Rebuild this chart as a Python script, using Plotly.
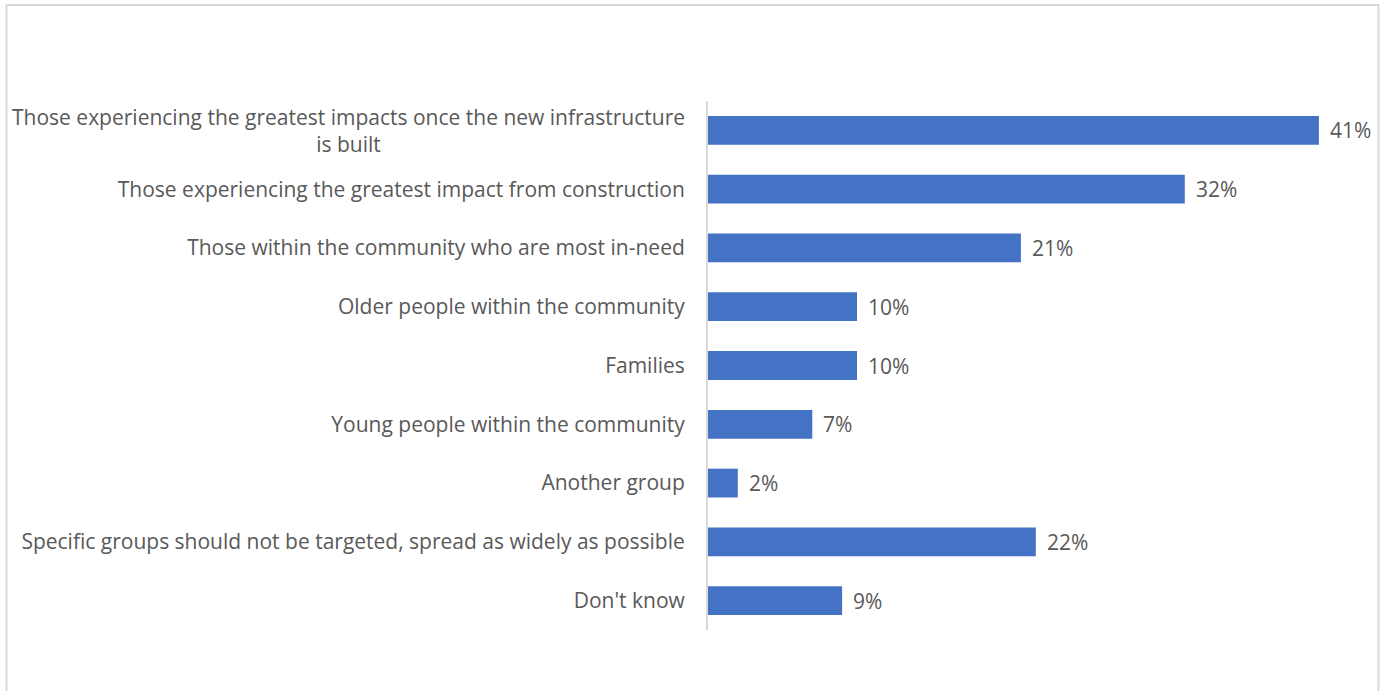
import plotly.graph_objects as go

# Survey response shares by group
categories = [
    "Those experiencing the greatest impacts once the new infrastructure<br>is built",
    "Those experiencing the greatest impact from construction",
    "Those within the community who are most in-need",
    "Older people within the community",
    "Families",
    "Young people within the community",
    "Another group",
    "Specific groups should not be targeted, spread as widely as possible",
    "Don't know",
]
values = [41, 32, 21, 10, 10, 7, 2, 22, 9]
value_labels = ["41%", "32%", "21%", "10%", "10%", "7%", "2%", "22%", "9%"]

W, H = 1383, 691
ML, MR, MT, MB = 708, 5, 101, 61
px_per_unit = 14.9
plot_w = W - ML - MR
plot_h = H - MT - MB

font_family = "Open Sans, Segoe UI, sans-serif"
label_color = "#595959"
font_size = 21

# first label is two lines, centered; drawn as an annotation
tick_text = [""] + categories[1:]

fig = go.Figure(
    go.Bar(
        y=list(range(len(categories))),
        x=values,
        orientation="h",
        marker=dict(color="#4472C4", line=dict(width=0)),
        hoverinfo="skip",
    )
)

# value labels just past the end of each bar
for i, (v, lab) in enumerate(zip(values, value_labels)):
    fig.add_annotation(
        x=v, xref="x", y=i, yref="y",
        xanchor="left", yanchor="middle",
        xshift=9,
        text=lab, showarrow=False,
        font=dict(family=font_family, size=font_size, color=label_color),
    )

fig.add_annotation(
    x=0, xref="paper",
    y=0, yref="y",
    xanchor="right", yanchor="middle",
    xshift=-21,
    text=categories[0],
    align="center",
    showarrow=False,
    font=dict(family=font_family, size=font_size, color=label_color),
)

# light grey frame around the chart
def px_to_paper_x(px):
    return (px - ML) / plot_w

def px_to_paper_y(py):
    return (H - MB - py) / plot_h

fig.add_shape(
    type="rect",
    xref="paper", yref="paper",
    x0=px_to_paper_x(6.5), x1=px_to_paper_x(1378.5),
    y0=px_to_paper_y(720), y1=px_to_paper_y(5),
    line=dict(color="#d9d9d9", width=2),
    fillcolor="rgba(0,0,0,0)",
    layer="below",
)

fig.update_layout(
    width=W, height=H,
    margin=dict(l=ML, r=MR, t=MT, b=MB, pad=0),
    paper_bgcolor="white",
    plot_bgcolor="white",
    bargap=0.51,
    showlegend=False,
    font=dict(family=font_family, size=font_size, color=label_color),
    xaxis=dict(
        range=[0, plot_w / px_per_unit],
        showgrid=False, zeroline=False, showline=False,
        showticklabels=False, ticks="",
        fixedrange=True,
    ),
    yaxis=dict(
        tickmode="array",
        tickvals=list(range(len(categories))),
        ticktext=tick_text,
        range=[len(categories) - 0.5, -0.5],
        showgrid=False, zeroline=False,
        showline=True, linecolor="#d9d9d9", linewidth=2,
        ticks="", ticklabelstandoff=17,
        tickfont=dict(family=font_family, size=font_size, color=label_color),
        fixedrange=True,
    ),
)

fig.write_html("out.html")
